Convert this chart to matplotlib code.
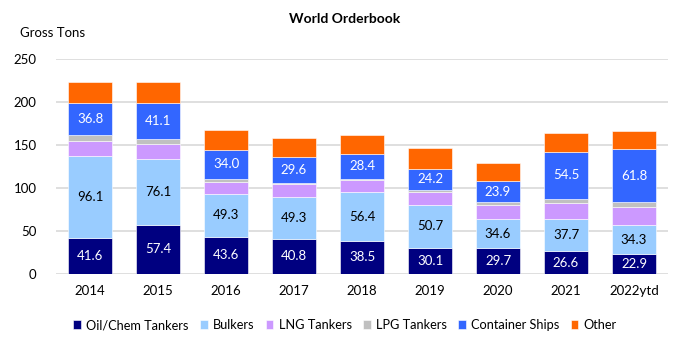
import numpy as np
import matplotlib
matplotlib.use("Agg")
import matplotlib.pyplot as plt

plt.rcParams['font.family'] = ['Lato', 'DejaVu Sans']

# ---- data (million gross tons) ----
years = ['2014', '2015', '2016', '2017', '2018', '2019', '2020', '2021', '2022ytd']
oil_chem = [41.6, 57.4, 43.6, 40.8, 38.5, 30.1, 29.7, 26.6, 22.9]
bulkers = [96.1, 76.1, 49.3, 49.3, 56.4, 50.7, 34.6, 37.7, 34.3]
lng = [16.8, 17.1, 14.6, 14.3, 14.6, 15.1, 16.4, 18.0, 21.2]
lpg = [7.0, 6.6, 3.1, 1.6, 1.5, 2.3, 3.2, 5.0, 5.1]
container = [36.8, 41.1, 34.0, 29.6, 28.4, 24.2, 23.9, 54.5, 61.8]
other = [24.8, 24.9, 23.0, 22.4, 22.5, 23.6, 21.0, 22.0, 20.8]

series = [
    ('Oil/Chem Tankers', oil_chem, '#000080', 'white', True),
    ('Bulkers', bulkers, '#99CCFF', 'black', True),
    ('LNG Tankers', lng, '#CC99FF', 'black', False),
    ('LPG Tankers', lpg, '#C0C0C0', 'black', False),
    ('Container Ships', container, '#3366FF', 'white', True),
    ('Other', other, '#FF6600', 'black', False),
]

fig = plt.figure(figsize=(6.9, 3.45), dpi=100)
ax = fig.add_axes([56/690, 1-274/345, 612/690, 215/345])

x = np.arange(len(years))
bottom = np.zeros(len(years))
for name, vals, col, tcol, lab in series:
    vals = np.array(vals)
    bars = ax.bar(x, vals, 0.66, bottom=bottom, color=col, label=name,
                  edgecolor='white', linewidth=0.4, zorder=3)
    if lab:
        ax.bar_label(bars, labels=['%.1f' % v for v in vals], label_type='center',
                     color=tcol, fontsize=9.5)
    bottom += vals

ax.set_xlim(-0.5, len(years) - 0.5)
ax.set_ylim(0, 250)
ax.set_yticks(np.arange(0, 251, 50))
ax.set_xticks(x)
ax.set_xticklabels(years)
ax.yaxis.grid(True, color='#D9D9D9', linewidth=1.2, zorder=0)
for s in ax.spines.values():
    s.set_visible(False)
ax.tick_params(length=0, labelsize=9.5, colors='black')
ax.tick_params(axis='x', pad=8)
ax.tick_params(axis='y', pad=14)

fig.text(0.5, 1-19/345, 'World Orderbook', ha='center', va='center',
         fontsize=10, fontweight='bold')
fig.text(20/690, 1-33/345, 'Gross Tons', ha='left', va='center', fontsize=9.5)

fig.legend(loc='center', bbox_to_anchor=(0.5, 1-325/345), ncol=6, frameon=False,
           fontsize=9.2, handlelength=0.6, handleheight=0.6, handletextpad=0.4,
           columnspacing=0.9)

fig.savefig('out.png', dpi=100)
